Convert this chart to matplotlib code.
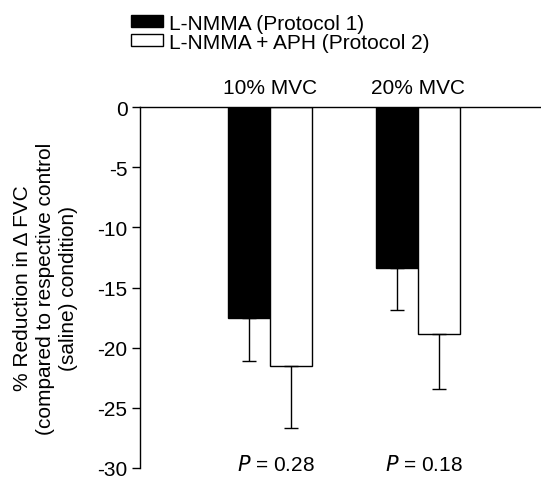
import numpy as np
import matplotlib
matplotlib.use('Agg')
import matplotlib.pyplot as plt
from matplotlib.patches import Patch

plt.rcParams['font.family'] = ['Liberation Sans', 'DejaVu Sans']
plt.rcParams['font.size'] = 15

groups = ['10% MVC', '20% MVC']
p_values = ['0.28', '0.18']
series = ['L-NMMA (Protocol 1)', 'L-NMMA + APH (Protocol 2)']
protocol1 = [-17.5, -13.4]
protocol1_err = [3.6, 3.5]
protocol2 = [-21.5, -18.9]
protocol2_err = [5.2, 4.5]
yticks = [0, -5, -10, -15, -20, -25, -30]

fig = plt.figure(figsize=(5.41, 4.81), dpi=100)
ax = fig.add_axes([140 / 541, 1 - 469 / 481, 1 - 140 / 541, (469 - 108) / 481])

x = np.arange(len(groups))
w = 0.285
ax.bar(x - w / 2, protocol1, w, color='black', edgecolor='black', linewidth=1)
ax.bar(x + w / 2, protocol2, w, color='white', edgecolor='black', linewidth=1)
ax.errorbar(x - w / 2, protocol1, yerr=[protocol1_err, np.zeros(2)], fmt='none',
            ecolor='black', elinewidth=1, capsize=5, capthick=1)
ax.errorbar(x + w / 2, protocol2, yerr=[protocol2_err, np.zeros(2)], fmt='none',
            ecolor='black', elinewidth=1, capsize=5, capthick=1)

ax.set_xlim(-0.88, 1.835)
ax.set_ylim(-30, 0)
ax.set_yticks(yticks)
ax.set_yticklabels([str(t) for t in yticks])
ax.set_xticks([])
ax.spines['right'].set_visible(False)
ax.spines['bottom'].set_visible(False)
ax.spines['left'].set_linewidth(1)
ax.spines['top'].set_linewidth(1)
ax.tick_params(axis='y', direction='out', length=6, width=1, pad=3, labelsize=15)

for xi, g, p in zip(x, groups, p_values):
    ax.text(xi, 0.85, g, ha='center', va='bottom', fontsize=15)
    ax.text(xi + 0.04, -29.7, r'$P$ = ' + p, ha='center', va='center', fontsize=15)

ax.set_ylabel('% Reduction in Δ FVC\n(compared to respective control\n(saline) condition)',
              fontsize=15, linespacing=1.25, labelpad=14)

handles = [Patch(facecolor='black', edgecolor='black'),
           Patch(facecolor='white', edgecolor='black')]
fig.legend(handles, series, loc='upper left', bbox_to_anchor=(116 / 541, 1 - 0 / 481),
           frameon=False, handlelength=1.55, handleheight=0.5, handletextpad=0.3,
           labelspacing=0.0, fontsize=15, borderpad=0.2)

fig.savefig('out.png', dpi=100)
